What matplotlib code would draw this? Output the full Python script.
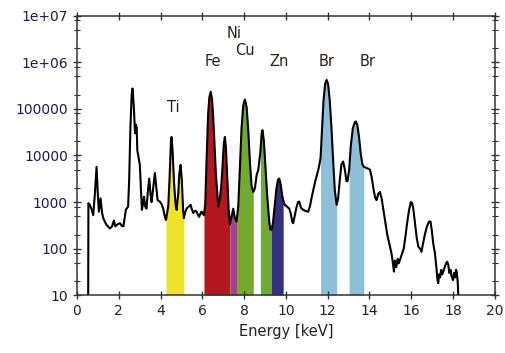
import numpy as np
import matplotlib
matplotlib.use("Agg")
import matplotlib.pyplot as plt
from matplotlib.ticker import LogLocator, FixedLocator, FixedFormatter, NullFormatter

# spectrum: energy [keV] and counts
energy = [0.54, 0.55, 0.62, 0.70, 0.78, 0.86, 0.94, 1.00, 1.05, 1.13, 1.20, 1.26, 1.40, 1.58,
          1.68, 1.77, 1.84, 1.90, 1.98, 2.06, 2.14, 2.22, 2.30, 2.34, 2.45, 2.50, 2.56, 2.62,
          2.66, 2.72, 2.78, 2.82, 2.86, 2.89, 2.95, 3.01, 3.06, 3.11, 3.16, 3.21, 3.27, 3.33,
          3.40, 3.46, 3.52, 3.57, 3.65, 3.73, 3.80, 3.86, 3.97, 4.05, 4.13, 4.20, 4.26, 4.32,
          4.37, 4.43, 4.50, 4.53, 4.58, 4.65, 4.72, 4.77, 4.85, 4.90, 4.96, 5.02, 5.08, 5.12,
          5.18, 5.25, 5.35, 5.44, 5.50, 5.57, 5.65, 5.73, 5.80, 5.85, 5.92, 5.97, 6.02, 6.08,
          6.14, 6.20, 6.28, 6.34, 6.40, 6.46, 6.52, 6.58, 6.65, 6.71, 6.76, 6.82, 6.90, 6.97,
          7.03, 7.08, 7.13, 7.20, 7.26, 7.32, 7.40, 7.48, 7.56, 7.64, 7.72, 7.80, 7.88, 7.96,
          8.04, 8.12, 8.20, 8.28, 8.36, 8.44, 8.52, 8.60, 8.68, 8.78, 8.84, 8.88, 8.94, 9.02,
          9.10, 9.20, 9.25, 9.31, 9.38, 9.46, 9.55, 9.62, 9.68, 9.75, 9.82, 9.87, 9.95, 10.05,
          10.16, 10.24, 10.30, 10.35, 10.42, 10.50, 10.58, 10.64, 10.72, 10.83, 10.95, 11.07,
          11.15, 11.24, 11.31, 11.42, 11.55, 11.62, 11.66, 11.72, 11.80, 11.88, 11.95, 12.02,
          12.10, 12.18, 12.26, 12.34, 12.43, 12.50, 12.58, 12.66, 12.74, 12.82, 12.90, 12.95,
          13.03, 13.10, 13.20, 13.30, 13.35, 13.42, 13.50, 13.58, 13.66, 13.73, 13.78, 13.86,
          13.95, 14.02, 14.10, 14.20, 14.28, 14.34, 14.42, 14.50, 14.58, 14.66, 14.74, 14.85,
          14.98, 15.05, 15.12, 15.17, 15.22, 15.28, 15.35, 15.40, 15.45, 15.52, 15.58, 15.64,
          15.72, 15.80, 15.90, 15.98, 16.04, 16.10, 16.18, 16.26, 16.34, 16.42, 16.49, 16.55,
          16.65, 16.75, 16.85, 16.92, 16.98, 17.05, 17.13, 17.20, 17.25, 17.29, 17.33, 17.38,
          17.43, 17.48, 17.53, 17.60, 17.66, 17.72, 17.77, 17.82, 17.88, 17.93, 18.00, 18.05,
          18.10, 18.14, 18.17, 18.22, 18.25]
counts = [10, 950, 870, 700, 520, 1500, 5700, 1500, 620, 1200, 600, 450, 330, 270,
          300, 400, 300, 320, 340, 350, 310, 300, 500, 680, 800, 3000, 40000, 200000,
          275000, 120000, 30000, 46000, 40000, 13000, 9000, 6300, 2000, 680, 900, 1300, 800, 720,
          1800, 3200, 1500, 1000, 2000, 4200, 2000, 1100, 1020, 900, 720, 500, 410, 600,
          800, 3000, 20000, 25000, 12000, 2500, 900, 680, 1500, 4000, 6300, 3000, 700, 450,
          600, 720, 800, 870, 700, 580, 650, 620, 520, 480, 580, 620, 560, 520,
          900, 6800, 80000, 180000, 235000, 170000, 70000, 18000, 4000, 1800, 800, 1000, 2000, 6000,
          18000, 25000, 15000, 3000, 700, 330, 480, 720, 450, 380, 800, 6000, 40000, 120000,
          160000, 110000, 35000, 7000, 2200, 1650, 2000, 3800, 4900, 12000, 30000, 35000, 22000, 6000,
          1500, 400, 260, 250, 350, 800, 2000, 3000, 3200, 2400, 1400, 1100, 870, 800,
          720, 550, 380, 350, 500, 750, 1000, 1020, 750, 680, 640, 620,
          800, 1300, 1800, 3000, 4900, 7000, 9000, 30000, 150000, 350000, 420000, 340000,
          150000, 40000, 8000, 1800, 870, 1200, 3000, 6500, 7400, 5000, 2800, 2800,
          5000, 15000, 38000, 52000, 54000, 45000, 25000, 11000, 6500, 5700, 5600, 5400,
          5200, 5000, 3500, 1800, 1200, 1100, 1500, 1650, 1200, 700, 410, 200,
          110, 80, 50, 32, 55, 40, 60, 48, 56, 70, 85, 100,
          180, 350, 700, 1000, 950, 700, 350, 170, 110, 100, 85, 120,
          200, 300, 380, 380, 250, 130, 80, 40, 22, 18, 28, 24,
          35, 28, 32, 40, 48, 52, 45, 30, 35, 25, 21, 30,
          24, 35, 32, 20, 10]

# shaded element windows
band_lo = [4.26, 6.08, 7.32, 7.64, 8.78, 9.31, 11.66, 13.03]
band_hi = [5.12, 7.32, 7.64, 8.44, 9.31, 9.87, 12.43, 13.73]
band_colors = ['#efe32a', '#b5171f', '#a2438c', '#73a92f', '#73a92f', '#34307d', '#8dc0d8', '#8dc0d8']

# peak labels
labels = ['Ti', 'Fe', 'Ni', 'Cu', 'Zn', 'Br', 'Br']
label_x = [4.6, 6.5, 7.5, 8.05, 9.65, 11.95, 13.9]
label_y = [1.05e5, 1.05e6, 4.2e6, 1.8e6, 1.05e6, 1.05e6, 1.05e6]

yticks = [10, 100, 1000, 10000, 100000, 1e6, 1e7]
ytick_labels = ['10', '100', '1000', '10000', '100000', '1e+06', '1e+07']

E = np.array(energy)
C = np.array(counts, dtype=float)

fig = plt.figure(figsize=(5.06, 3.53), dpi=100)
ax = fig.add_axes([0.152, 0.164, 0.826, 0.791])

for lo, hi, col in zip(band_lo, band_hi, band_colors):
    m = (E >= lo) & (E <= hi)
    ax.fill_between(E[m], 10, C[m], color=col, linewidth=0)

ax.plot(E, C, color='black', linewidth=1.5)

for t, x, y in zip(labels, label_x, label_y):
    ax.text(x, y, t, ha='center', va='center', fontsize=10.5, color='#2a2018')

ax.set_yscale('log')
ax.set_xlim(0, 20)
ax.set_ylim(10, 1e7)
ax.set_xticks(range(0, 21, 2))
ax.yaxis.set_major_locator(FixedLocator(yticks))
ax.yaxis.set_major_formatter(FixedFormatter(ytick_labels))
ax.yaxis.set_minor_locator(LogLocator(base=10, subs=(2, 5, 8)))
ax.yaxis.set_minor_formatter(NullFormatter())

ax.tick_params(which='both', direction='inout', top=True, right=True, colors='#333333',
               labelsize=10)
ax.tick_params(which='major', length=6, width=1)
ax.tick_params(which='minor', length=4, width=0.8)
ax.tick_params(axis='y', labelcolor='#1c1c4a')
ax.tick_params(axis='x', labelcolor='#222222')
for s in ax.spines.values():
    s.set_linewidth(1.1)
    s.set_color('#333333')

ax.set_xlabel('Energy [keV]', fontsize=10.5, color='#222222', labelpad=4)

fig.savefig('out.png', dpi=100)
